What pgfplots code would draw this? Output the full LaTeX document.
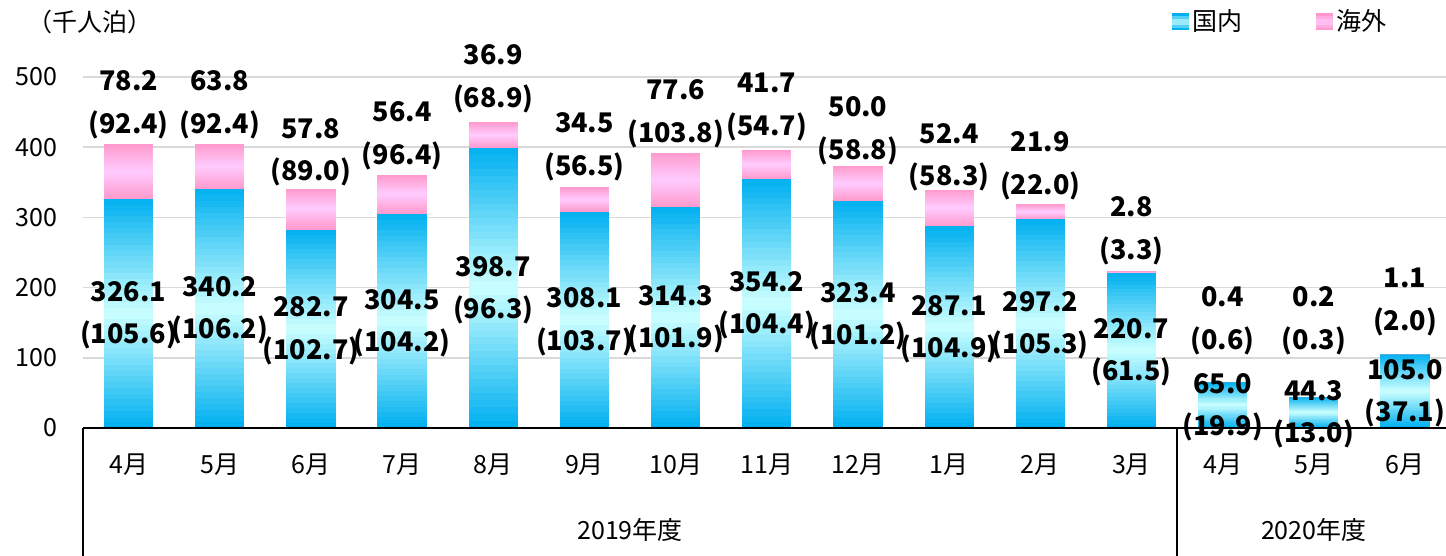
\documentclass[border=0pt]{standalone}
\usepackage{pgfplots}
\pgfplotsset{compat=1.18}
\usepackage{pgfplotstable}
\usepackage{fontspec}
\setmainfont{Noto Sans CJK JP}
\definecolor{domC}{HTML}{00B0F0}
\definecolor{domL}{HTML}{CCFFFF}
\definecolor{forC}{HTML}{FF99CC}
\definecolor{forL}{HTML}{FFCCFF}
\definecolor{gridC}{HTML}{D9D9D9}
\newcommand{\regfont}{\fontsize{12.5}{14}\selectfont}
\newcommand{\labfont}{\fontsize{13.5}{15}\selectfont\bfseries}
\tikzset{dlab/.style={font=\labfont, inner sep=0pt}}
\pgfplotsset{
  domstyle/.style={draw=none, mark=none, fill=domC, forget plot},
  forstyle/.style={draw=none, mark=none, fill=forC, forget plot},
}
\newcommand{\nstrip}{40}

\pgfplotstableread{
x dom for
0 326.1 78.2
1 340.2 63.8
2 282.7 57.8
3 304.5 56.4
4 398.7 36.9
5 308.1 34.5
6 314.3 77.6
7 354.2 41.7
8 323.4 50.0
9 287.1 52.4
10 297.2 21.9
11 220.7 2.8
12 65.0 0.4
13 44.3 0.2
14 105.0 1.1
}\data

\begin{document}
\begin{tikzpicture}
\begin{axis}[
  at={(41.5pt,64pt)}, anchor=south west,
  scale only axis, width=683.8pt, height=175.5pt,
  xmin=-0.5, xmax=14.5, ymin=0, ymax=500,
  axis line style={draw=none},
  major tick length=0pt,
  ytick={0,100,...,500},
  ymajorgrids, grid style={gridC, line width=0.8pt},
  xtick={0,...,14},
  xticklabels={4月,5月,6月,7月,8月,9月,10月,11月,12月,1月,2月,3月,4月,5月,6月},
  xticklabel style={anchor=center, yshift=-18.5pt, font=\regfont},
  yticklabel style={anchor=east, inner sep=0pt, xshift=-12.5pt, font=\regfont},
  /pgf/number format/assume math mode=true,
  clip=false,
  legend columns=2,
  legend style={draw=none, fill=none, at={(0.796,1.157)}, anchor=west, font=\regfont, inner sep=0pt,
    /tikz/every even column/.append style={column sep=34.5pt}},
]
% bars from the table, with a vertical dark-light-dark gradient built from thin strips
\pgfplotsinvokeforeach{0,...,14}{
  \pgfplotstablegetelem{#1}{dom}\of\data \let\dv\pgfplotsretval
  \pgfplotstablegetelem{#1}{for}\of\data \let\fv\pgfplotsretval
  \pgfmathsetmacro{\xl}{#1-0.27}
  \pgfmathsetmacro{\xr}{#1+0.27}
  \pgfmathsetmacro{\tv}{\dv+\fv}
  \edef\tmp{\noexpand\addplot[domstyle] coordinates {(\xl,0) (\xl,\dv) (\xr,\dv) (\xr,0)};
    \noexpand\addplot[forstyle] coordinates {(\xl,\dv) (\xl,\tv) (\xr,\tv) (\xr,\dv)};}
  \tmp
  \foreach \k in {0,...,39} {
    \pgfmathsetmacro{\ya}{\dv*\k/\nstrip}
    \pgfmathsetmacro{\yb}{min(\dv*(\k+1.4)/\nstrip,\dv)}
    \pgfmathtruncatemacro{\pc}{round(100*abs(2*(\k+0.5)/\nstrip-1))}
    \pgfmathsetmacro{\za}{\dv+\fv*\k/\nstrip}
    \pgfmathsetmacro{\zb}{\dv+min(\fv*(\k+1.4)/\nstrip,\fv)}
    \edef\tmp{\noexpand\fill[domC!\pc!domL] (axis cs:\xl,\ya) rectangle (axis cs:\xr,\yb);
      \noexpand\fill[forC!\pc!forL] (axis cs:\xl,\za) rectangle (axis cs:\xr,\zb);}
    \tmp
  }
}
\addlegendimage{legend image code/.code={\fill[domC] (0pt,-4pt) rectangle (8pt,4pt);
  \fill[domC!60!domL] (0pt,-2.6pt) rectangle (8pt,2.6pt); \fill[domC!25!domL] (0pt,-1.2pt) rectangle (8pt,1.2pt);}}
\addlegendentry{国内}
\addlegendimage{legend image code/.code={\fill[forC] (0pt,-4pt) rectangle (8pt,4pt);
  \fill[forC!60!forL] (0pt,-2.6pt) rectangle (8pt,2.6pt); \fill[forC!25!forL] (0pt,-1.2pt) rectangle (8pt,1.2pt);}}
\addlegendentry{海外}

\draw[black, line width=1pt] (axis cs:-0.5,0) -- (axis cs:14.5,0);
\draw[black, line width=1pt] (axis cs:-0.5,0) -- ([yshift=-64pt]axis cs:-0.5,0);
\draw[black, line width=1pt] (axis cs:11.5,0) -- ([yshift=-64pt]axis cs:11.5,0);
\draw[gray!60, line width=0.6pt] (axis cs:13,44.5) -- (axis cs:13,64);

\node[font=\regfont, yshift=-51pt] at (axis cs:5.5,0) {2019年度};
\node[font=\regfont, yshift=-51pt] at (axis cs:13,0) {2020年度};
\node[font=\regfont, xshift=3.5pt, yshift=27.5pt] at (rel axis cs:0,1) {（千人泊）};

\foreach \xx/\hv/\dv/\dq in {0/163.05/326.1/105.6, 1/170.1/340.2/106.2, 2/141.35/282.7/102.7,
  3/152.25/304.5/104.2, 4/199.35/398.7/96.3, 5/154.05/308.1/103.7, 6/157.15/314.3/101.9,
  7/177.1/354.2/104.4, 8/161.7/323.4/101.2, 9/143.55/287.1/104.9, 10/148.6/297.2/105.3,
  11/110.35/220.7/61.5, 12/32.5/65.0/19.9, 13/22.15/44.3/13.0, 14/52.5/105.0/37.1} {
  \edef\tmp{\noexpand\node[dlab, yshift=10.85pt] at (axis cs:\xx,\hv) {\dv};
    \noexpand\node[dlab, yshift=-10.85pt] at (axis cs:\xx,\hv) {(\dq)};}
  \tmp
}
\foreach \xx/\fv/\fq/\ly in {0/78.2/92.4/494.3, 1/63.8/92.4/494.3, 2/57.8/89.0/426.9,
  3/56.4/96.4/450.6, 4/36.9/68.9/531.3, 5/34.5/56.5/434.9, 6/77.6/103.8/481.5,
  7/41.7/54.7/491.9, 8/50.0/58.8/457.7, 9/52.4/58.3/419.8, 10/21.9/22.0/407.8,
  11/2.8/3.3/315.2, 12/0.4/0.6/187.0, 13/0.2/0.3/187.0, 14/1.1/2.0/213.2} {
  \edef\tmp{\noexpand\node[dlab] at (axis cs:\xx,\ly) {\fv};
    \noexpand\node[dlab, yshift=-22pt] at (axis cs:\xx,\ly) {(\fq)};}
  \tmp
}
\end{axis}
\pgfresetboundingbox
\path[use as bounding box] (0,0) rectangle (723pt,278pt);
\end{tikzpicture}
\end{document}
